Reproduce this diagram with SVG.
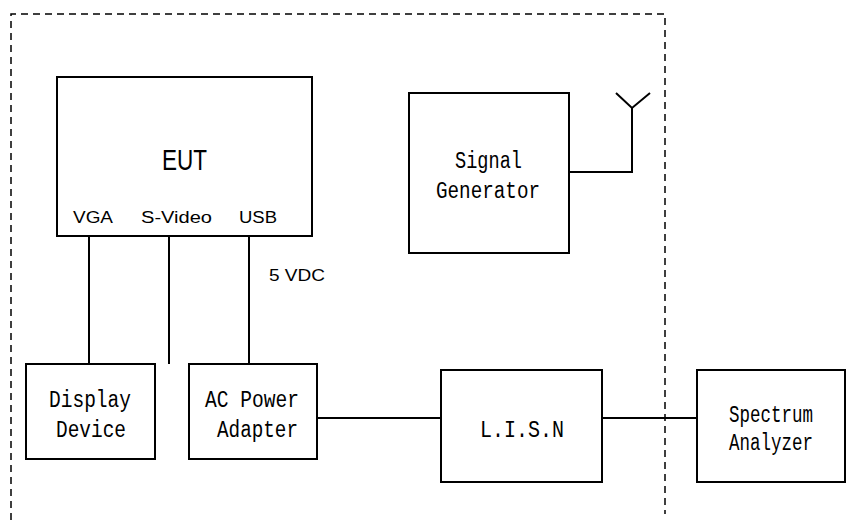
<svg xmlns="http://www.w3.org/2000/svg" width="846" height="520" viewBox="0 0 846 520">
<style>
.box{fill:#fff;stroke:#000;stroke-width:2}
.ln{fill:none;stroke:#000;stroke-width:2}
.dash{fill:none;stroke:#000;stroke-width:1.5;stroke-dasharray:7,5}
.m{font-family:"Liberation Mono","DejaVu Sans Mono",monospace;font-size:23px;fill:#000}
.s{font-family:"Liberation Sans",Arial,sans-serif;font-size:16px;fill:#000}
</style>
<rect width="846" height="520" fill="#fff"/>
<path class="dash" d="M11,520 V14 H665 V514"/>
<g id="connectors">
<path class="ln" d="M89,236 V364"/>
<path class="ln" d="M169,236 V364"/>
<path class="ln" d="M249,236 V364"/>
<path class="ln" d="M317,418 H441"/>
<path class="ln" d="M602,418 H697"/>
<path class="ln" d="M569,172 H632 V108 M616,93 L632,108 L650,93"/>
</g>
<g id="eut">
<rect class="box" x="57" y="77" width="255" height="159"/>
<text x="162" y="170" font-family="Liberation Sans,Arial,sans-serif" font-size="30" textLength="45" lengthAdjust="spacingAndGlyphs">EUT</text>
<text class="s" x="73" y="223" textLength="40" lengthAdjust="spacingAndGlyphs">VGA</text>
<text class="s" x="141" y="223" textLength="71" lengthAdjust="spacingAndGlyphs">S-Video</text>
<text class="s" x="239" y="223" textLength="38" lengthAdjust="spacingAndGlyphs">USB</text>
</g>
<g id="label-5vdc">
<text class="s" x="269" y="281" font-size="18" textLength="56" lengthAdjust="spacingAndGlyphs">5 VDC</text>
</g>
<g id="signal-generator">
<rect class="box" x="409" y="93" width="160" height="160"/>
<text class="m" x="455" y="168" textLength="67" lengthAdjust="spacingAndGlyphs">Signal</text>
<text class="m" x="436" y="198" textLength="104" lengthAdjust="spacingAndGlyphs">Generator</text>
</g>
<g id="display-device">
<rect class="box" x="26" y="364" width="129" height="95"/>
<text class="m" x="49" y="407" textLength="82" lengthAdjust="spacingAndGlyphs">Display</text>
<text class="m" x="56" y="437" textLength="70" lengthAdjust="spacingAndGlyphs">Device</text>
</g>
<g id="ac-power-adapter">
<rect class="box" x="189" y="364" width="128" height="95"/>
<text class="m" x="205" y="407" textLength="94" lengthAdjust="spacingAndGlyphs">AC Power</text>
<text class="m" x="217" y="437" textLength="81" lengthAdjust="spacingAndGlyphs">Adapter</text>
</g>
<g id="lisn">
<rect class="box" x="441" y="370" width="161" height="112"/>
<text class="m" x="480" y="437" textLength="84" lengthAdjust="spacingAndGlyphs">L.I.S.N</text>
</g>
<g id="spectrum-analyzer">
<rect class="box" x="697" y="370" width="148" height="112"/>
<text class="m" x="729" y="422" textLength="84" lengthAdjust="spacingAndGlyphs">Spectrum</text>
<text class="m" x="729" y="450" textLength="84" lengthAdjust="spacingAndGlyphs">Analyzer</text>
</g>
</svg>
